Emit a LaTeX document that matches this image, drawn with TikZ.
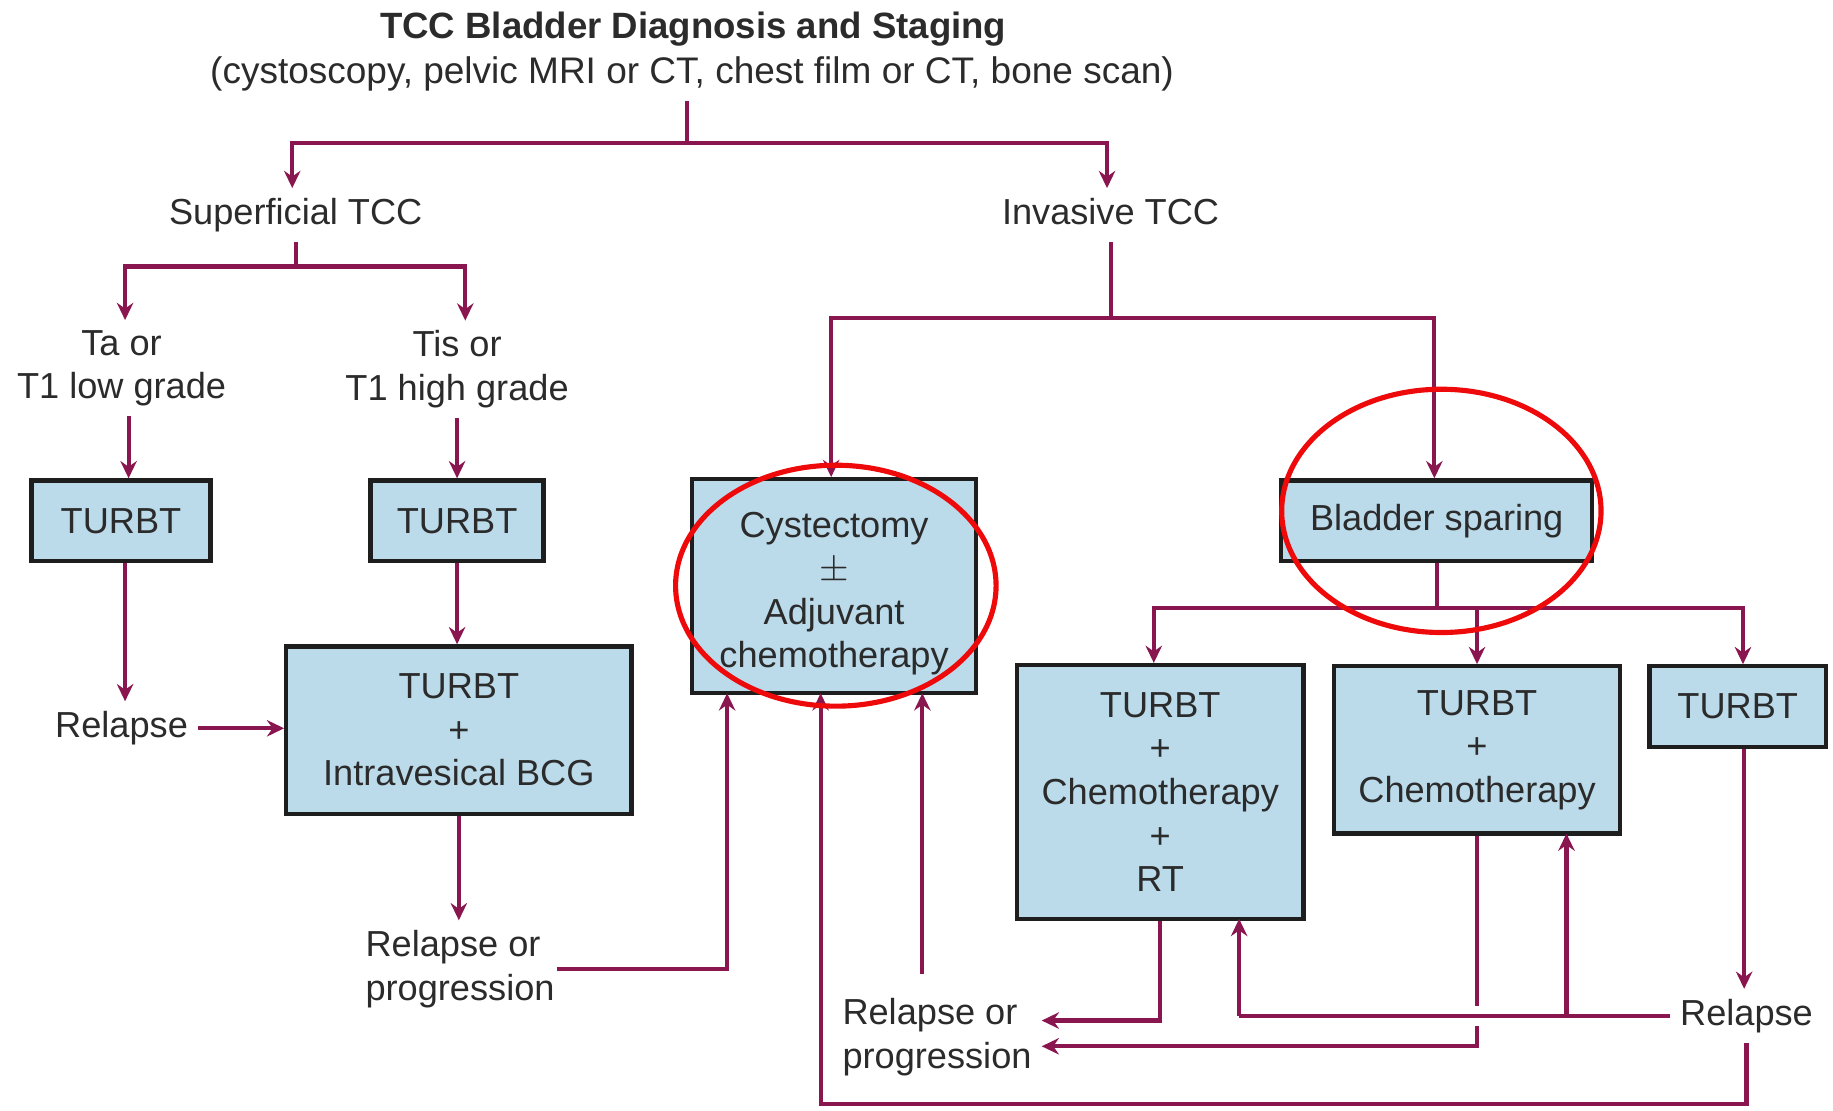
\documentclass[tikz,border=0pt]{standalone}
\usepackage{fontspec}
\setmainfont{Liberation Sans}
\usetikzlibrary{arrows.meta,calc}
\definecolor{wine}{HTML}{8A1650}
\definecolor{boxfill}{HTML}{BBDAEA}
\definecolor{boxline}{HTML}{1E1E1E}
\definecolor{ink}{HTML}{2B2B2B}
\definecolor{ring}{HTML}{EE0A0A}

\begin{document}
\begin{tikzpicture}[x=0.01cm, y=-0.01cm,
  every node/.style={font=\fontsize{8.8pt}{10.6pt}\selectfont, text=ink},
  lbl/.style={inner sep=0.08cm, align=center},
  box/.style={draw=boxline, line width=1.05pt, fill=boxfill, align=center, inner sep=0pt},
  ln/.style={draw=wine, line width=1pt},
  arr/.style={ln, -{Stealth[length=4.2pt,width=4pt,inset=1.4pt]}},
  halo/.style={preaction={draw=white, line width=5pt}},
  ringmark/.style={draw=ring, line width=1.25pt}]

\useasboundingbox (0,0) rectangle (1568,950);

% ---- headings and plain labels
\node[inner sep=0, font={\fontsize{8.9pt}{10pt}\selectfont\bfseries}] (title) at (593,25) {TCC Bladder Diagnosis and Staging};
\node[lbl, font=\fontsize{9pt}{10.6pt}\selectfont] (scan) at (592,63) {(cystoscopy, pelvic MRI or CT, chest film or CT, bone scan)};
\node[lbl] (sup) at (253,184) {Superficial TCC};
\node[lbl] (inv) at (950,181) {Invasive TCC};
\node[lbl] (low) at (104,315) {Ta or\\T1 low grade};
\node[lbl] (high) at (391,316) {Tis or\\T1 high grade};
\node[lbl] (rel1) at (104,623) {Relapse};
\node[lbl, align=left, anchor=west] (rp1) at (304,829) {Relapse or\\progression};
\node[lbl, align=left, anchor=west] (rp2) at (712,887) {Relapse or\\progression};
\node[lbl] (rel3) at (1494,869) {Relapse};

% ---- treatment boxes
\node[box, minimum width=1.53cm, minimum height=0.69cm] (t1) at (103.5,445.5) {TURBT};
\node[box, minimum width=1.48cm, minimum height=0.69cm] (t2) at (391,445.5) {TURBT};
\node[box, minimum width=2.95cm, minimum height=1.43cm] (bcg) at (392.5,624.5) {TURBT\\+\\Intravesical BCG};
\node[box, minimum width=2.43cm, minimum height=1.83cm] (cyst) at (713.5,501.5) {\rule{0pt}{0.34cm}Cystectomy\\$\pm$\\Adjuvant\\chemotherapy};
\node[box, minimum width=2.66cm, minimum height=0.69cm] (spare) at (1229,445.5) {Bladder sparing};
\node[box, minimum width=2.45cm, minimum height=2.17cm] (rt) at (992.5,677.5) {TURBT\\+\\Chemotherapy\\+\\RT};
\node[box, minimum width=2.45cm, minimum height=1.43cm] (chemo) at (1263.5,641.5) {TURBT\\+\\Chemotherapy};
\node[box, minimum width=1.51cm, minimum height=0.69cm] (t3) at (1486.5,604.5) {TURBT};

% ---- junction points
\coordinate (hubA) at (588,122);
\coordinate (hubS) at (250,228);
\coordinate (hubI) at (950,272);
\coordinate (hubB) at (1228,520);
\coordinate (cA) at (622,593);
\coordinate (cB) at (702,593);
\coordinate (cC) at (789,593);
\coordinate (cCs) at (789,833);
\coordinate (loopY) at (0,944);
\coordinate (upRT) at (1060,786);
\coordinate (upCh) at (1340,713);

% ---- diagnosis split
\draw[ln] (scan.south -| hubA) -- (hubA);
\draw[arr] (hubA) -| ([xshift=-0.03cm]sup.north);
\draw[arr] (hubA) -| ([xshift=-0.03cm]inv.north);

% ---- superficial branch
\draw[ln] (sup.south) -- (sup.south |- hubS);
\draw[arr] (sup.south |- hubS) -| ([xshift=0.03cm]low.north);
\draw[arr] (sup.south |- hubS) -| ([xshift=0.07cm]high.north);
\draw[arr] ([xshift=0.06cm]low.south) -- ([xshift=0.06cm]low.south |- t1.north);
\draw[arr] (high.south) -- (high.south |- t2.north);
\draw[arr] ([xshift=0.035cm]t1.south) -- ([xshift=0.035cm]t1.south |- rel1.north);
\draw[arr] (rel1.east) -- (rel1.east -| bcg.west);
\draw[arr] (t2.south) -- (t2.south |- bcg.north);
\draw[arr] (bcg.south) -- (bcg.south |- rp1.north);
\draw[arr] ([xshift=-0.07cm]rp1.east) -| (cA);

% ---- invasive branch
\draw[ln, shorten <=0.06cm] (inv.south) -- (hubI);
\draw[arr] (hubI) -| ([xshift=-0.025cm]cyst.north);
\draw[arr] (hubI) -| ([xshift=-0.02cm]spare.north);

% ---- bladder sparing options
\draw[ln] (spare.south) -- (spare.south |- hubB);
\draw[arr] (spare.south |- hubB) -| ([xshift=-0.055cm]rt.north);
\draw[arr] (spare.south |- hubB) -| (chemo.north);
\draw[arr] (spare.south |- hubB) -| ([xshift=0.045cm]t3.north);
\draw[arr] ([xshift=0.055cm]t3.south) -- ([xshift=0.055cm]t3.south |- rel3.north);

% ---- relapse paths
\draw[arr] (rt.south) |- ([yshift=0.14cm]rp2.east);
\draw[arr] (chemo.south) |- ([yshift=-0.08cm]rp2.east);
\draw[ln, halo] (rel3.west) -- (rel3.west -| upRT);
\draw[arr] (rel3.west -| upRT) -- (upRT);
\draw[arr] (rel3.west -| upCh) -- (upCh);
\draw[arr] (rel3.south) |- (cB |- loopY) -- (cB);
\draw[arr] (cCs) -- (cC);

% ---- highlight rings
\draw[ringmark] (715,501) ellipse [x radius=1.37cm, y radius=1.03cm];
\draw[ringmark] (1233,437) ellipse [x radius=1.365cm, y radius=1.04cm];
\end{tikzpicture}
\end{document}
